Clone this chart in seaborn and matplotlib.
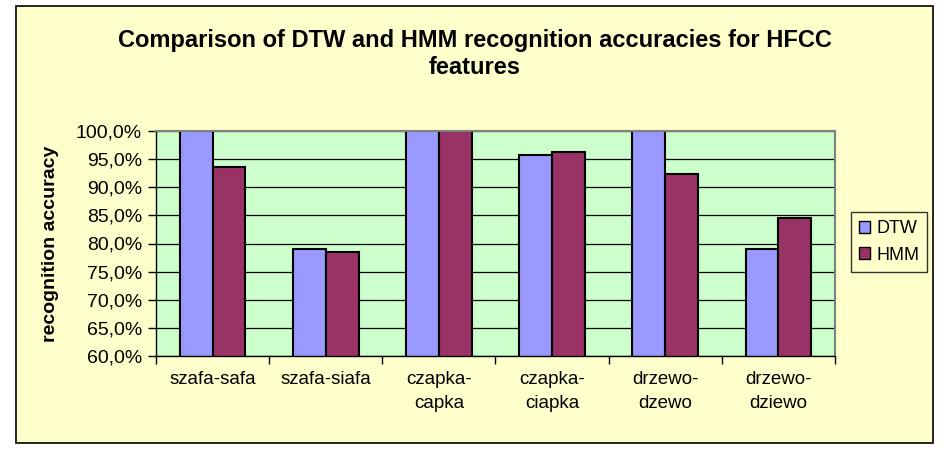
import pandas as pd
import matplotlib
matplotlib.use("Agg")
import matplotlib.pyplot as plt
import seaborn as sns
from matplotlib.patches import Rectangle
from matplotlib.ticker import FixedLocator, FuncFormatter

# data
categories = ["szafa-safa", "szafa-siafa", "czapka-\ncapka", "czapka-\nciapka",
              "drzewo-\ndzewo", "drzewo-\ndziewo"]
dtw = [100.0, 79.0, 100.0, 95.7, 100.0, 79.0]
hmm = [93.6, 78.5, 100.0, 96.3, 92.3, 84.6]
methods = ["DTW", "HMM"]
y_ticks = [60, 65, 70, 75, 80, 85, 90, 95, 100]

df = pd.DataFrame({
    "pair": categories * 2,
    "method": [methods[0]] * len(categories) + [methods[1]] * len(categories),
    "acc": dtw + hmm,
})

sns.set_style("white")
plt.rcParams["font.family"] = ["Liberation Sans", "DejaVu Sans"]
plt.rcParams["text.color"] = "black"
plt.rcParams["xtick.color"] = "black"
plt.rcParams["ytick.color"] = "black"
plt.rcParams["axes.labelcolor"] = "black"

W, H = 952, 451
fig = plt.figure(figsize=(W / 100, H / 100), dpi=100)
fig.patch.set_facecolor("white")

# outer chart frame
fig.patches.append(Rectangle((16 / W, 1 - 443 / H), (933 - 16) / W, (443 - 6) / H,
                             transform=fig.transFigure, facecolor="#FFFFCC",
                             edgecolor="black", linewidth=1.2, zorder=-5))

ax = fig.add_axes([156 / W, 1 - 356 / H, (835 - 156) / W, (356 - 131) / H])
ax.set_zorder(2)
ax.set_facecolor("#CCFFCC")

sns.barplot(data=df, x="pair", y="acc", hue="method",
            palette={"DTW": "#9999FF", "HMM": "#993366"},
            width=0.58, edgecolor="black", linewidth=1.5,
            saturation=1, ax=ax, legend=True)

ax.set_ylim(60, 100)
ax.set_xlim(-0.5, len(categories) - 0.5)
ax.yaxis.set_major_locator(FixedLocator(y_ticks))
ax.yaxis.set_major_formatter(FuncFormatter(lambda v, p: f"{v:.1f}%".replace(".", ",")))
ax.grid(axis="y", color="black", linewidth=0.9)
ax.set_axisbelow(True)

for s in ["top", "right"]:
    ax.spines[s].set_color("#808080")
    ax.spines[s].set_linewidth(1.5)
for s in ["left", "bottom"]:
    ax.spines[s].set_color("black")
    ax.spines[s].set_linewidth(1.0)

ax.tick_params(axis="y", direction="out", length=6, width=1, color="black",
               labelsize=14, pad=4, left=True)
ax.tick_params(axis="x", which="major", length=0, labelsize=13.5, pad=11)
ax.xaxis.set_minor_locator(FixedLocator([i - 0.5 for i in range(len(categories) + 1)]))
ax.tick_params(axis="x", which="minor", direction="out", length=6, width=1,
               color="black", bottom=True)
for lbl in ax.get_xticklabels():
    lbl.set_linespacing(1.55)

ax.set_xlabel("")
ax.set_ylabel("recognition accuracy", fontsize=14, fontweight="bold", labelpad=12)

leg = ax.legend(loc="center left", bbox_to_anchor=(851 / W, 1 - 242 / H),
                bbox_transform=fig.transFigure, frameon=True, fancybox=False,
                fontsize=13, handlelength=0.6, handleheight=0.6,
                handletextpad=0.35, borderpad=0.45, labelspacing=0.5,
                borderaxespad=0)
leg.get_frame().set_edgecolor("black")
leg.get_frame().set_facecolor("#FFFFCC")
leg.get_frame().set_linewidth(1.0)
for h in leg.legend_handles:
    h.set_linewidth(1.0)

fig.text(475 / W, 1 - 54 / H,
         "Comparison of DTW and HMM recognition accuracies for HFCC\nfeatures",
         ha="center", va="center", fontsize=17, fontweight="bold",
         linespacing=1.2)

fig.savefig("out.png", dpi=100)
